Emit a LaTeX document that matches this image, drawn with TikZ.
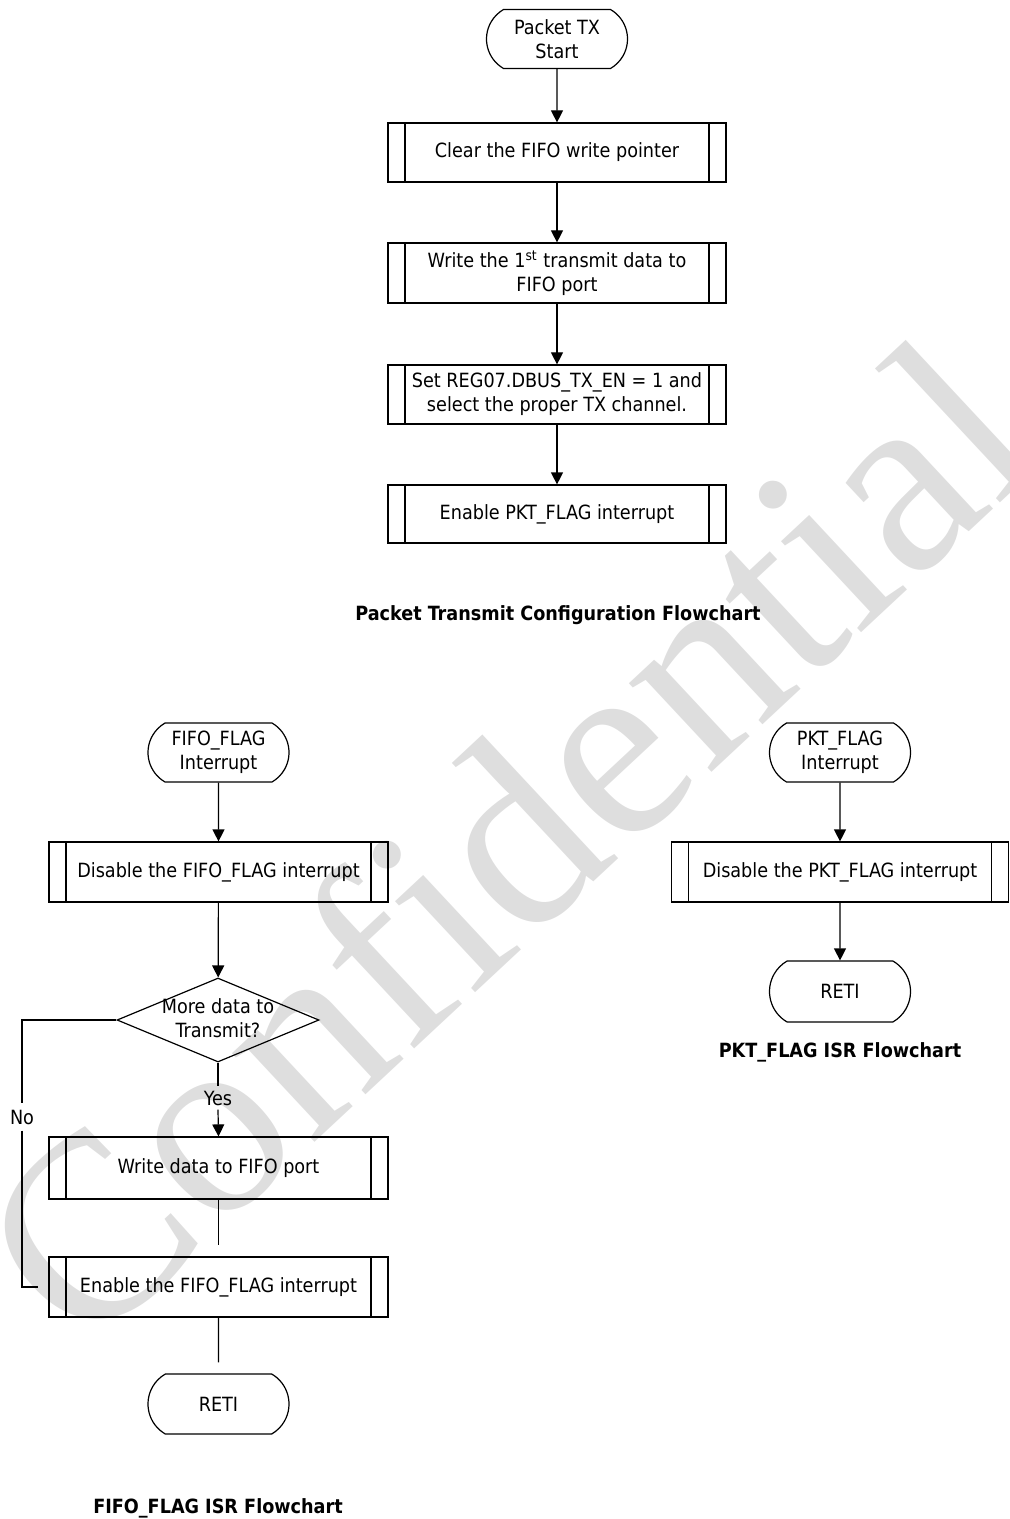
\documentclass[tikz,border=0pt]{standalone}
\usepackage{fontspec}
\setmainfont{DejaVu Sans Condensed}
\newfontfamily\wmfont{Liberation Serif}
\usetikzlibrary{arrows.meta,shapes.geometric,shapes.misc}

\tikzset{
  txt/.style={font=\fontsize{9.8}{12}\selectfont},
  base/.style={txt, draw=black, line width=0.6pt, align=center, inner sep=0pt},
  term/.style={base, rounded rectangle, rounded rectangle arc length=120,
    minimum width=70.5pt, minimum height=29.5pt},
  proc/.style={base, rectangle, minimum width=169pt, minimum height=30pt,
    path picture={\draw[line width=0.6pt]
      ([xshift=8.5pt]path picture bounding box.north west) --
      ([xshift=8.5pt]path picture bounding box.south west)
      ([xshift=-8.5pt]path picture bounding box.north east) --
      ([xshift=-8.5pt]path picture bounding box.south east);}},
  decision/.style={draw=black, line width=0.6pt, diamond, inner sep=0pt,
    minimum width=101pt, minimum height=42pt},
  flow/.style={line width=0.6pt, -{Triangle[length=6pt,width=6pt]}},
  link/.style={line width=0.6pt},
  caption/.style={font=\bfseries\fontsize{9.8}{12}\selectfont},
  lbl/.style={txt, inner xsep=1pt, inner ysep=2pt},
  wm/.style={text=black!13, inner sep=0pt, font=\wmfont\fontsize{132}{132}\selectfont},
}

\begin{document}
\begin{tikzpicture}[x=0.5pt,y=-0.5pt]
\useasboundingbox (0,0) rectangle (1009,1519);

% watermark behind the charts
\node[wm, rotate=43] (wm) at (505,840) {Confidential};

% ---------- packet transmit configuration ----------
\node[term] (ts) at (557,39) {Packet TX\\Start};
\node[proc, minimum height=29.5pt] (b1) at (557,152.5) {Clear the FIFO write pointer};
\node[proc] (b2) at (557,273) {Write the 1\textsuperscript{st} transmit data to\\FIFO port};
\node[proc, minimum height=29.5pt] (b3) at (557,394.5) {Set REG07.DBUS\_TX\_EN = 1 and\\select the proper TX channel.};
\node[proc, minimum height=29pt] (b4) at (557,514) {Enable PKT\_FLAG interrupt};
\node[caption] (c1) at (558,615) {Packet Transmit Configuration Flowchart};

\draw[flow] (ts) -- (b1);
\draw[flow] (b1) -- (b2);
\draw[flow] (b2) -- (b3);
\draw[flow] (b3) -- (b4);

% ---------- FIFO_FLAG ISR ----------
\node[term] (fs) at (218.5,752.5) {FIFO\_FLAG\\Interrupt};
\node[proc, minimum width=169.5pt] (d1) at (218.5,872) {Disable the FIFO\_FLAG interrupt};
\node[decision] (q) at (218,1020) {};
\node[txt, align=center, inner sep=0pt] (qt) at (218,1018) {More data to\\Transmit?};
\node[lbl] (yes) at (218,1098) {Yes};
\node[lbl, inner ysep=3pt] (no) at (22,1117) {No};
\node[proc, minimum width=169.5pt, minimum height=31pt] (w1) at (218.5,1168) {Write data to FIFO port};
\node[proc, minimum width=169.5pt] (e1) at (218.5,1287) {Enable the FIFO\_FLAG interrupt};
\node[term, minimum height=30pt] (r1) at (218.5,1404) {RETI};
\node[caption] (c2) at (218,1508) {FIFO\_FLAG ISR Flowchart};

\draw[flow] (fs) -- (d1);
\draw[flow] (d1) -- (q);
\draw[link] (q.south) -- (yes.north);
\draw[flow] (yes.south) -- (w1.north);
\draw[link] (q.west) -| (no.north);
\draw[link, shorten >=5pt] (no.south) |- (e1.west);
\draw[link, shorten >=5.5pt] (w1) -- (e1);
\draw[link, shorten >=5.5pt] (e1) -- (r1);

% ---------- PKT_FLAG ISR ----------
\node[term] (ps) at (840,752.5) {PKT\_FLAG\\Interrupt};
\node[proc, minimum width=168.5pt] (d2) at (840,872) {Disable the PKT\_FLAG interrupt};
\node[term, minimum height=30.5pt] (r2) at (840,991.5) {RETI};
\node[caption] (c3) at (840,1052) {PKT\_FLAG ISR Flowchart};

\draw[flow] (ps) -- (d2);
\draw[flow] (d2) -- (r2);
\end{tikzpicture}
\end{document}
